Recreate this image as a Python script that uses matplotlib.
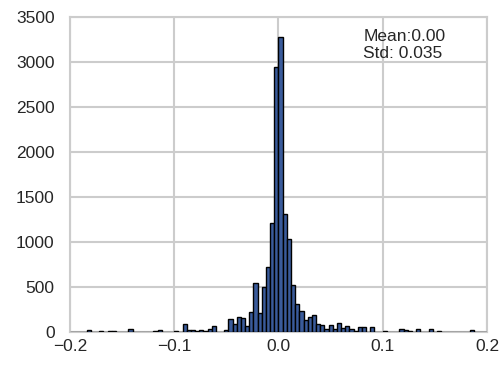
import numpy as np
import matplotlib.pyplot as plt

plt.rcParams['font.family'] = ['Liberation Sans', 'DejaVu Sans']

# histogram: 100 bins of width 0.004 from -0.2 to 0.2
bin_edges = np.linspace(-0.2, 0.2, 101)
counts = [
    0, 0, 0, 0, 25, 0, 0, 8, 0, 10,
    10, 0, 0, 0, 30, 0, 0, 0, 0, 0,
    10, 20, 0, 0, 0, 15, 0, 85, 20, 18,
    10, 18, 12, 30, 67, 5, 5, 26, 144, 89,
    167, 156, 67, 226, 541, 215, 500, 719, 1211, 2940,
    3280, 1315, 1037, 519, 307, 230, 133, 170, 189, 85,
    78, 33, 81, 33, 100, 45, 70, 35, 10, 60,
    55, 5, 60, 0, 0, 15, 5, 5, 0, 30,
    25, 15, 0, 30, 5, 0, 30, 5, 10, 0,
    0, 0, 0, 0, 0, 0, 25, 0, 0, 0,
]
mean_txt = 'Mean:0.00'
std_txt = 'Std: 0.035'

fig = plt.figure(figsize=(5.02, 3.65), dpi=100)
ax = fig.add_axes([70/502, 1-332/365, 417/502, 315/365])

centers = (bin_edges[:-1] + bin_edges[1:]) / 2
ax.hist(centers, bins=bin_edges, weights=counts, color='#3a5b9b',
        edgecolor='black', linewidth=1.0, zorder=3)

ax.set_xlim(-0.2, 0.2)
ax.set_ylim(0, 3500)
ax.set_xticks([-0.2, -0.1, 0.0, 0.1, 0.2])
ax.set_yticks(range(0, 3501, 500))
ax.grid(True, color='#cccccc', linewidth=1.5, zorder=0)
ax.set_axisbelow(True)
for s in ax.spines.values():
    s.set_color('#cccccc')
    s.set_linewidth(1.5)
ax.tick_params(axis='both', length=0, labelsize=12.5, colors='#262626')
ax.tick_params(axis='y', pad=11)
ax.tick_params(axis='x', pad=5)

ax.text(0.703, 0.962, mean_txt + '\n' + std_txt, transform=ax.transAxes,
        ha='left', va='top', fontsize=12.5, color='#262626', linespacing=1.15)

plt.savefig('out.png', dpi=100)
